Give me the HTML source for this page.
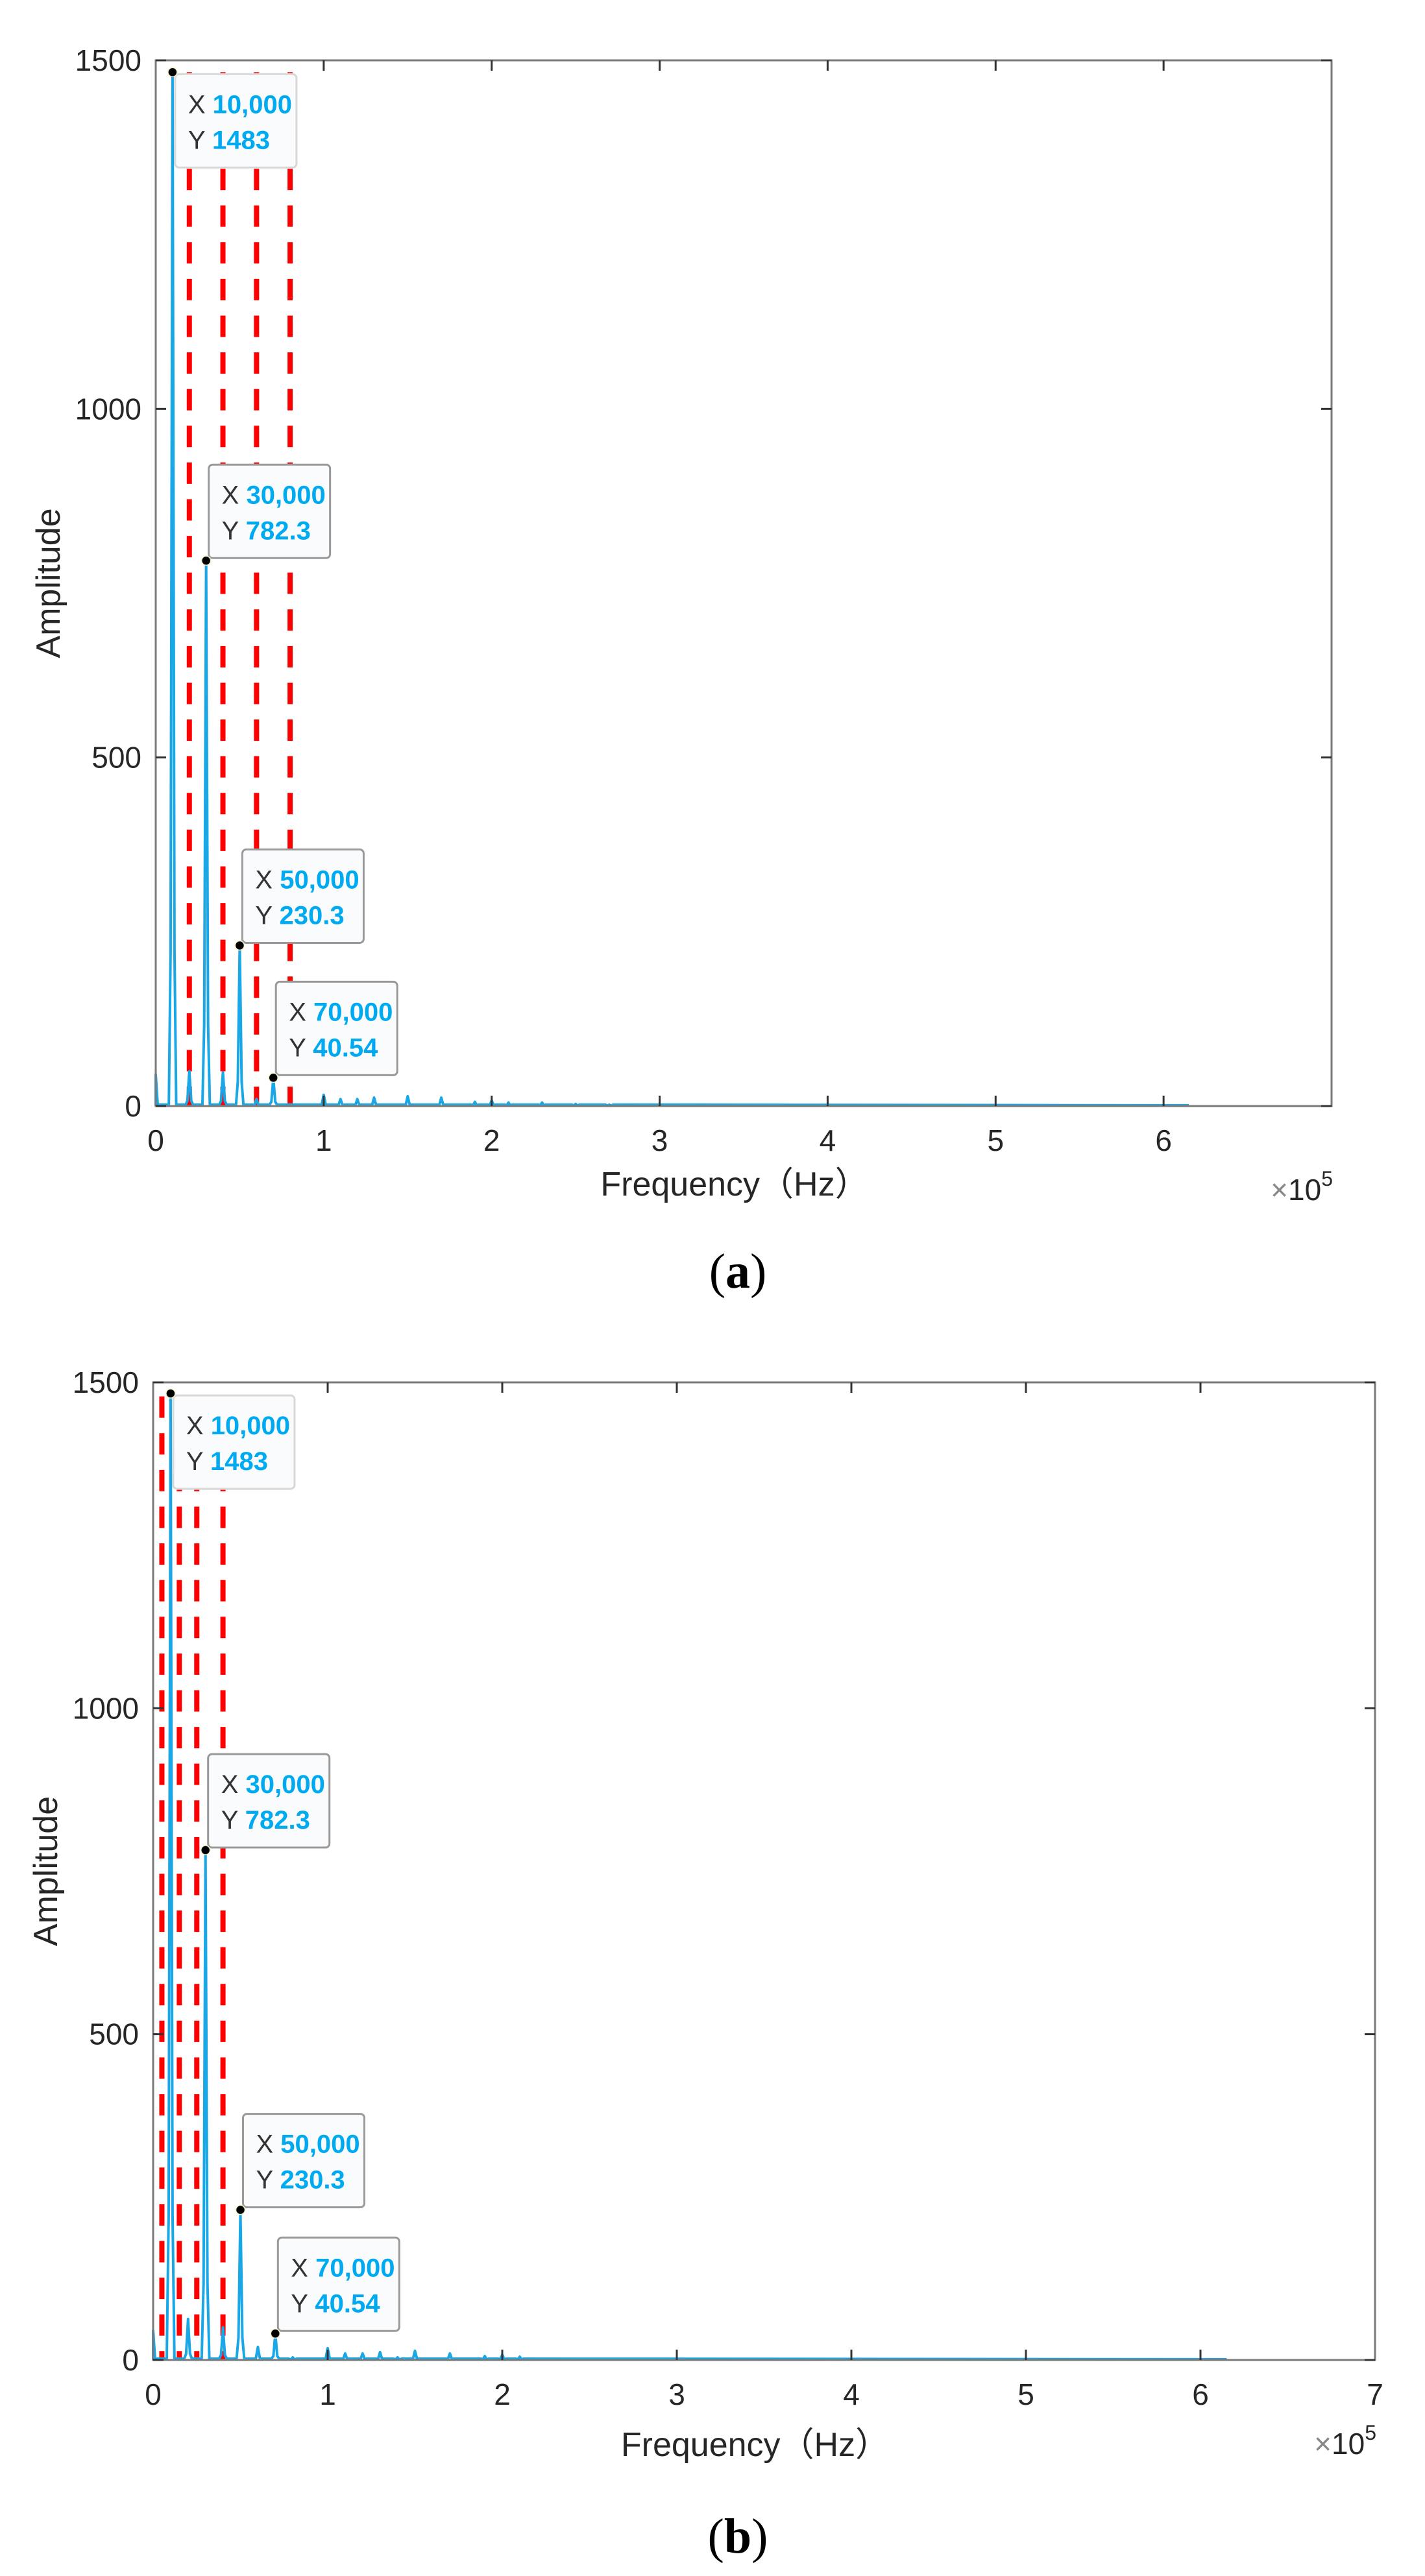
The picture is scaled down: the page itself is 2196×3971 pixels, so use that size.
<!DOCTYPE html>
<html>
<head>
<meta charset="utf-8">
<style>
  html,body{margin:0;padding:0;background:#fff;}
  svg{display:block;}
  text{font-family:"Liberation Sans","Noto Sans CJK SC",sans-serif;}
</style>
</head>
<body>
<svg id="fig" width="2196" height="3971" viewBox="0 0 2196 3971" xmlns="http://www.w3.org/2000/svg"></svg>
<script>
// ---- data ----
const peakFreqA = [0, 10000, 20000, 30000, 40000, 50000, 60000, 70000, 100000, 110000, 120000, 130000, 150000, 170000, 190000, 200000, 210000, 230000, 250000, 270000];
const peakAmpA  = [45, 1483, 50, 782.3, 48, 230.3, 10, 40.54, 16, 10, 10, 12, 14, 12, 6, 8, 5, 5, 3, 2];
const peakFreqB = [0, 10000, 20000, 30000, 40000, 50000, 60000, 70000, 80000, 100000, 110000, 120000, 130000, 140000, 150000, 170000, 190000, 200000, 210000];
const peakAmpB  = [45, 1483, 63, 782.3, 50, 230.3, 20, 40.54, 4, 18, 10, 10, 12, 4, 14, 10, 6, 8, 5];
const redLinesA = [20000, 40000, 60000, 80000];
const redLinesB = [5000, 15000, 25000, 40000];
const tipFreq = [10000, 30000, 50000, 70000];
const tipAmp  = [1483, 782.3, 230.3, 40.54];
const tipXLabel = ["10,000", "30,000", "50,000", "70,000"];
const tipYLabel = ["1483", "782.3", "230.3", "40.54"];
const yTicks = [0, 500, 1000, 1500];
const xTicks = [0, 1, 2, 3, 4, 5, 6, 7];
const dataEnd = 615000;

const NS = "http://www.w3.org/2000/svg";
const svg = document.getElementById("fig");
function mk(tag, attrs, parent){
  const e = document.createElementNS(NS, tag);
  for (const k in attrs) e.setAttribute(k, attrs[k]);
  (parent||svg).appendChild(e);
  return e;
}

function drawPanel(p){
  const g = mk("g", {});
  
  
  const sx = f => p.left + (f / p.xmax) * (p.right - p.left);
  const sy = v => p.bottom - (v / 1500) * (p.bottom - p.top);

  // red dashed lines
  p.red.forEach(f => {
    const l = mk("line", {x1:sx(f), x2:sx(f), y1:sy(1483), y2:p.bottom, stroke:"#ff0000", "stroke-width":8,
      "stroke-dasharray":"33 23.6", "stroke-dashoffset":p.dashOff}, g);
    
    
  });

  // spectrum
  let d = "M" + sx(0) + "," + sy(0);
  const w = (p.right - p.left) / p.xmax * 2200;
  p.freqs.forEach((f, i) => {
    const x = sx(f), y = sy(p.amps[i]);
    if (f === 0) { d += " L" + x + "," + y + " L" + (x+3) + "," + sy(2); return; }
    d += " L" + (x - w) + "," + sy(2) + " L" + (x - 3) + "," + sy(p.amps[i]*0.15) + " L" + x + "," + y + " L" + (x + 3) + "," + sy(p.amps[i]*0.15) + " L" + (x + w) + "," + sy(2);
  });
  d += " L" + sx(dataEnd) + "," + sy(1);
  const sp = mk("path", {d:d, fill:"none", stroke:"#1aa7e6", "stroke-width":4, "stroke-linejoin":"round"}, g);
  
  

  // axes box
  const box = mk("rect", {x:p.left, y:p.top, width:p.right-p.left, height:p.bottom-p.top, fill:"none", stroke:"#7a7a7a", "stroke-width":3}, g);
  
  

  // y ticks
  yTicks.forEach(v => {
    const y = sy(v);
    mk("line", {x1:p.left, x2:p.left+16, y1:y, y2:y, stroke:"#333", "stroke-width":3}, g);
    mk("line", {x1:p.right, x2:p.right-16, y1:y, y2:y, stroke:"#333", "stroke-width":3}, g);
    const t = mk("text", {x:p.left-22, y:y+16, "text-anchor":"end", "font-size":46, fill:"#262626"}, g);
    t.textContent = v;
    
    
  });
  // x ticks
  xTicks.forEach(v => {
    const x = sx(v * 1e5);
    if (v > 0 && v < 7) {
      mk("line", {x1:x, x2:x, y1:p.bottom, y2:p.bottom-16, stroke:"#333", "stroke-width":3}, g);
      mk("line", {x1:x, x2:x, y1:p.top, y2:p.top+16, stroke:"#333", "stroke-width":3}, g);
    }
    if (v === 7 && !p.show7) return;
    const t = mk("text", {x:x, y:p.bottom+69, "text-anchor":"middle", "font-size":46, fill:"#262626"}, g);
    t.textContent = v;
    
    
  });

  // axis titles
  const yt = mk("text", {x:0, y:0, transform:"translate(" + (p.left-148) + "," + ((p.top+p.bottom)/2) + ") rotate(-90)", "text-anchor":"middle", "font-size":52, fill:"#262626"}, g);
  yt.textContent = "Amplitude";
  
  
  const xt = mk("text", {x:(p.left+p.right)/2 - 14, y:p.bottom+p.xtOff, "text-anchor":"middle", "font-size":52, fill:"#262626"}, g);
  xt.textContent = "Frequency（Hz）";
  
  
  const ex = mk("text", {x:p.right+2, y:p.bottom+145, "text-anchor":"end", "font-size":46, fill:"#262626"}, g);
  ex.innerHTML = '<tspan fill="#888">×</tspan>10<tspan font-size="32" dy="-22">5</tspan>';
  
  

  // data tips
  tipFreq.forEach((f, i) => {
    const x = sx(f), y = sy(tipAmp[i]);
    const below = (i === 0);
    const bx = x + 4, by = below ? y + 3 : y - 148;
    const tg = mk("g", {}, g);
    
    
    mk("rect", {x:bx, y:by, width:187, height:144, rx:6, fill:"#fafbfc", stroke: below ? "#d8d8d8" : "#9a9a9a", "stroke-width":3}, tg);
    const t1 = mk("text", {x:bx+20, y:by+60, "font-size":40, fill:"#333"}, tg);
    t1.innerHTML = 'X <tspan fill="#00aaf0" font-weight="bold">' + tipXLabel[i] + '</tspan>';
    const t2 = mk("text", {x:bx+20, y:by+115, "font-size":40, fill:"#333"}, tg);
    t2.innerHTML = 'Y <tspan fill="#00aaf0" font-weight="bold">' + tipYLabel[i] + '</tspan>';
    const dot = mk("circle", {cx:x, cy:y, r:7, fill:"#000", stroke:"#f4f0c8", "stroke-width":1.5}, tg);
    
    
  });

  const cap = mk("text", {x:1137, y:p.capY, "text-anchor":"middle", "font-size":76, fill:"#000", style:"font-family:'Liberation Serif',serif"}, g);
  cap.innerHTML = '(<tspan font-weight="bold">' + p.id + '</tspan>)';
  
  
}

drawPanel({id:"a", left:240, right:2052, top:93, bottom:1705, xmax:7e5, show7:false, freqs:peakFreqA, amps:peakAmpA, red:redLinesA, dashOff:21, capY:1985, xtOff:138});
drawPanel({id:"b", left:236, right:2119, top:2131, bottom:3638, xmax:7e5, show7:true, freqs:peakFreqB, amps:peakAmpB, red:redLinesB, dashOff:52, capY:3935, xtOff:148});
</script>
</body>
</html>
